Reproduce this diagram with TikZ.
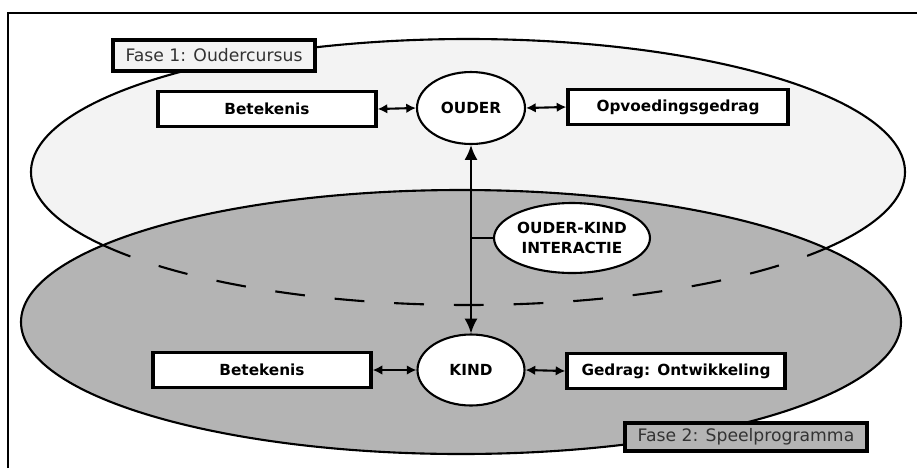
\documentclass[tikz,border=0pt]{standalone}
\usepackage{fontspec}
\setmainfont{DejaVu Sans}
\usetikzlibrary{arrows.meta,shapes.geometric}
\definecolor{lightfase}{RGB}{243,243,243}
\definecolor{darkfase}{RGB}{180,180,180}
\begin{document}
\begin{tikzpicture}[x=0.02cm, y=0.02cm]
	\tikzstyle{every node}+=[inner sep=0pt]
	\tikzstyle{labelbox}=[draw=black, line width=1.9pt, fill=white, minimum width=4.36cm, minimum height=0.7cm, font=\fontsize{8.7}{10}\selectfont\bfseries]
	\tikzstyle{ovalnode}=[draw=black, line width=1.2pt, fill=white, ellipse, font=\fontsize{8.7}{10}\selectfont\bfseries]
	\tikzstyle{fasebox}=[draw=black, line width=1.9pt, font=\fontsize{9.8}{11}\selectfont, text=black!80]
	\tikzstyle{twoway}=[line width=1.2pt, {Latex[length=5.5pt,width=5.5pt]}-{Latex[length=5.5pt,width=5.5pt]}]
	\tikzstyle{bigway}=[line width=1.2pt, {Latex[length=8.5pt,width=7.5pt]}-{Latex[length=8.5pt,width=7.5pt]}]
	\useasboundingbox (0,0) rectangle (917,-468);
	\draw [black, line width=1.3pt] (8,-468) -- (8,-13) -- (917,-13);
	\draw [black, line width=1.2pt, fill=lightfase] (468,-172) ellipse [x radius=437, y radius=133];
	\draw [black, line width=1.2pt, fill=darkfase] (461,-322) ellipse [x radius=440, y radius=132];
	\draw [black, line width=1.2pt, dash pattern=on 17pt off 17pt] (468,-172) ++(213.3:437 and 133) arc [start angle=213.3, end angle=325.2, x radius=437, y radius=133];
	\draw (214,-55.5) node [fasebox, fill=lightfase, minimum width=4.04cm, minimum height=0.62cm] (fase1) {Fase 1: Oudercursus};
	\draw (746,-437) node [fasebox, fill=darkfase, minimum width=4.84cm, minimum height=0.56cm] (fase2) {Fase 2: Speelprogramma};
	\draw (471,-108) node [ovalnode, minimum width=2.16cm, minimum height=1.44cm] (ouder) {OUDER};
	\draw (267,-109) node [labelbox] (betekenis1) {Betekenis};
	\draw (678,-107) node [labelbox, minimum width=4.4cm] (opvoeding) {Opvoedingsgedrag};
	\draw (572,-238) node [ovalnode, minimum width=3.12cm, minimum height=1.4cm, align=center, font=\fontsize{8.7}{11.3}\selectfont\bfseries] (interactie) {OUDER-KIND\\INTERACTIE};
	\draw (471,-370) node [ovalnode, minimum width=2.14cm, minimum height=1.42cm] (kind) {KIND};
	\draw (262,-370) node [labelbox] (betekenis2) {Betekenis};
	\draw (676,-371) node [labelbox] (gedrag) {Gedrag: Ontwikkeling};
	\draw [twoway] (betekenis1.east) -- (ouder.west);
	\draw [twoway] (ouder.east) -- (opvoeding.west);
	\draw [twoway] (betekenis2.east) -- (kind.west);
	\draw [twoway] (kind.east) -- (gedrag.west);
	\draw [bigway] (ouder.south) -- (kind.north);
	\draw [black, line width=1.5pt] (interactie.west) -- (interactie.west -| ouder.south);
\end{tikzpicture}
\end{document}
